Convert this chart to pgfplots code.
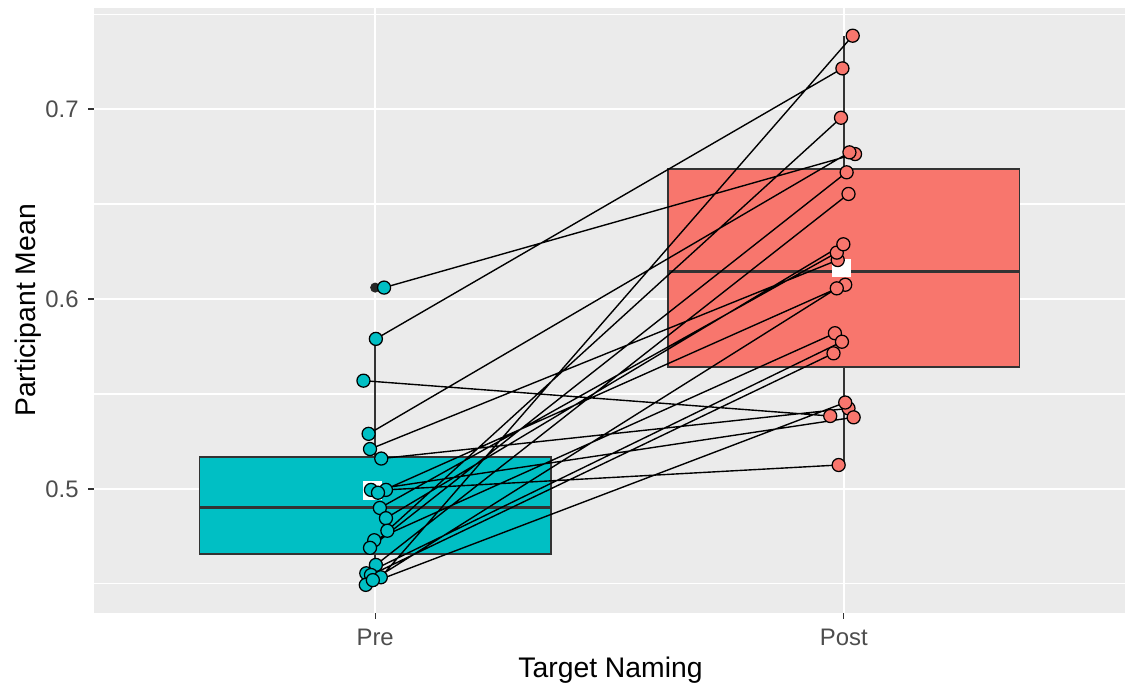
\documentclass[border=0pt]{standalone}
\usepackage{pgfplots}
\pgfplotsset{compat=1.18}
\usepackage{pgfplotstable}
\usepgfplotslibrary{statistics}
\usepackage{fontspec}
\setmainfont{Liberation Sans}
\definecolor{panel}{HTML}{EBEBEB}
\definecolor{preC}{HTML}{00BFC4}
\definecolor{postC}{HTML}{F8766D}
\definecolor{gray30}{HTML}{4D4D4D}
\definecolor{gray20}{HTML}{333333}

% paired participant means: Pre point, Post point, then a break
\pgfplotstableread{
x y
1.019 0.606
2.024 0.6763
nan nan
1.0015 0.579
1.997 0.7214
nan nan
0.975 0.557
1.971 0.5384
nan nan
0.986 0.529
2.012 0.6772
nan nan
0.989 0.521
1.987 0.6205
nan nan
1.013 0.516
2.010 0.5424
nan nan
1.023 0.4995
1.989 0.5126
nan nan
0.991 0.4995
2.021 0.5377
nan nan
1.006 0.498
2.003 0.6075
nan nan
1.010 0.490
1.985 0.6244
nan nan
1.023 0.4846
1.999 0.6288
nan nan
1.026 0.478
1.994 0.6954
nan nan
0.998 0.473
1.981 0.582
nan nan
0.989 0.469
2.006 0.6667
nan nan
1.0015 0.460
2.010 0.6553
nan nan
0.981 0.4556
1.996 0.5775
nan nan
0.991 0.4547
1.978 0.5714
nan nan
1.012 0.4535
2.019 0.7386
nan nan
0.980 0.4495
2.003 0.5455
nan nan
0.995 0.452
1.985 0.6056
}\pairs

\begin{document}
\begin{tikzpicture}
\useasboundingbox (-33.84pt,-27.36pt) rectangle (371.16pt,220.68pt);
\begin{axis}[
  scale only axis,
  width=371.16pt, height=217.8pt,
  xmin=0.4, xmax=2.6, ymin=0.4347, ymax=0.7532,
  axis background/.style={fill=panel},
  axis line style={draw=none},
  xtick={1,2}, xticklabels={Pre,Post},
  ytick={0.5,0.6,0.7},
  minor ytick={0.45,0.55,0.65,0.75},
  minor xtick={},
  yticklabel style={/pgf/number format/.cd,fixed,fixed zerofill,precision=1,assume math mode=true},
  ticklabel style={font=\fontsize{8.6}{10}\selectfont, text=gray30},
  xtick pos=bottom, ytick pos=left,
  tick align=outside,
  major tick length=2pt,
  minor tick length=0pt,
  tick style={gray20, line width=0.4pt},
  xticklabel style={yshift=-0.3pt},
  grid=both,
  major grid style={white, line width=0.75pt},
  minor grid style={white, line width=0.4pt},
  xlabel={Target Naming}, ylabel={Participant Mean},
  label style={font=\fontsize{10.2}{12}\selectfont, text=black},
  xlabel style={at={(axis description cs:0.501,-0.094)}, anchor=center},
  ylabel style={at={(axis description cs:-0.064,0.5)}, anchor=center, rotate=0},
  unbounded coords=jump,
  boxplot/draw direction=y,
]
% boxes
\addplot[boxplot prepared={lower whisker=0.4495, lower quartile=0.4658, median=0.490,
   upper quartile=0.5168, upper whisker=0.579, draw position=1, box extend=0.75, whisker extend=0,
   draw direction=y},
   fill=preC, draw=gray20, line width=0.5pt,
   boxplot/every median/.style={line width=1.1pt}] coordinates {};
\addplot[boxplot prepared={lower whisker=0.5126, lower quartile=0.5642, median=0.6147,
   upper quartile=0.6684, upper whisker=0.7386, draw position=2, box extend=0.75, whisker extend=0,
   draw direction=y},
   fill=postC, draw=gray20, line width=0.5pt,
   boxplot/every median/.style={line width=1.1pt}] coordinates {};
% outlier
\addplot[only marks, mark=*, mark size=1.6pt, color=black!85] coordinates {(1,0.606)};
% means
\addplot[only marks, mark=square*, mark size=3.2pt, color=white] coordinates {(0.995,0.499) (1.996,0.6163)};
% paired lines
\addplot[black, line width=0.5pt] table {\pairs};
% points
\addplot[only marks, mark=*, mark size=2.35pt, draw=black, fill=preC, line width=0.45pt,
   x filter/.expression={x<1.5 ? x : nan}] table {\pairs};
\addplot[only marks, mark=*, mark size=2.35pt, draw=black, fill=postC, line width=0.45pt,
   x filter/.expression={x>1.5 ? x : nan}] table {\pairs};
\end{axis}
\end{tikzpicture}
\end{document}
